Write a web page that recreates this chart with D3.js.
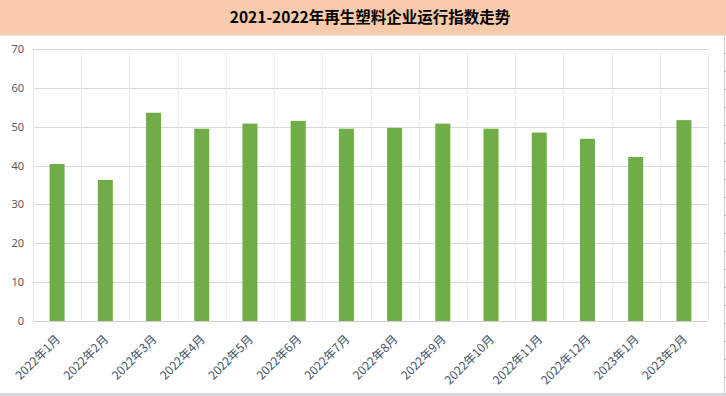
<!DOCTYPE html>
<html>
<head>
<meta charset="utf-8">
<script src="https://cdnjs.cloudflare.com/ajax/libs/d3/7.8.5/d3.min.js"></script>
<style>
  body { margin: 0; background: #fff; }
  #chart { width: 726px; height: 396px; }
</style>
</head>
<body>
<div id="chart"></div>
<script>
const months = ["2022年1月","2022年2月","2022年3月","2022年4月","2022年5月","2022年6月","2022年7月",
                "2022年8月","2022年9月","2022年10月","2022年11月","2022年12月","2023年1月","2023年2月"];
const values = [40.4, 36.3, 53.6, 49.5, 50.8, 51.5, 49.5, 49.7, 50.8, 49.5, 48.5, 46.9, 42.2, 51.7];
const yTicks = [0, 10, 20, 30, 40, 50, 60, 70];
const title = "2021-2022年再生塑料企业运行指数走势";

const W = 726, H = 396;
const svg = d3.select("#chart").append("svg").attr("width", W).attr("height", H);

// title band
svg.append("rect").attr("x", 0).attr("y", 0).attr("width", W).attr("height", 35).attr("fill", "#F8CBAD");
svg.append("line").attr("x1", 0).attr("x2", W).attr("y1", 35.5).attr("y2", 35.5).attr("stroke", "#e6e6e6");
svg.append("text")
  .attr("x", 370).attr("y", 23)
  .attr("text-anchor", "middle")
  .attr("font-family", "Noto Sans CJK SC")
  .attr("font-weight", "bold")
  .attr("font-size", "15.5px")
  .attr("fill", "#000")
  .text(title);

// right edge ruler and bottom strip
svg.append("line").attr("x1", 724.5).attr("x2", 724.5).attr("y1", 36).attr("y2", H).attr("stroke", "#d0d0d0");
svg.append("g").selectAll("line").data(d3.range(53, 390, 18)).enter().append("line")
  .attr("x1", 724).attr("x2", 726).attr("y1", d => d + 0.5).attr("y2", d => d + 0.5).attr("stroke", "#b8b8b8");
svg.append("rect").attr("x", 0).attr("y", 393).attr("width", W).attr("height", 3).attr("fill", "#d4d7dc");

const m = {left: 33, right: 708, top: 49, bottom: 321};

const x = d3.scaleBand().domain(months).range([m.left, m.right]).paddingInner(0).paddingOuter(0);
const y = d3.scaleLinear().domain([0, 70]).range([m.bottom, m.top]);

// horizontal gridlines
svg.append("g").selectAll("line").data(yTicks).enter().append("line")
  .attr("x1", m.left).attr("x2", m.right)
  .attr("y1", d => Math.round(y(d)) + 0.5).attr("y2", d => Math.round(y(d)) + 0.5)
  .attr("stroke", d => d === 0 ? "#d0d0d0" : "#d9d9d9");

// vertical gridlines at category boundaries
const bounds = months.map(d => x(d)).concat([m.right]);
svg.append("g").selectAll("line").data(bounds).enter().append("line")
  .attr("x1", d => Math.round(d) + 0.5).attr("x2", d => Math.round(d) + 0.5)
  .attr("y1", m.top).attr("y2", m.bottom)
  .attr("stroke", "#ececec");

// y labels
svg.append("g").selectAll("text").data(yTicks).enter().append("text")
  .attr("x", 24).attr("y", d => y(d) + 4)
  .attr("text-anchor", "end")
  .attr("font-family", "Noto Sans, sans-serif")
  .attr("font-size", "11px")
  .attr("fill", "#595959")
  .text(d => d);

// bars
const bw = 15;
svg.append("g").selectAll("rect").data(values).enter().append("rect")
  .attr("x", (d, i) => x(months[i]) + x.bandwidth() / 2 - bw / 2)
  .attr("width", bw)
  .attr("y", d => y(d))
  .attr("height", d => y(0) - y(d))
  .attr("fill", "#70AD47");

// x labels rotated
svg.append("g").selectAll("text").data(months).enter().append("text")
  .attr("transform", d => "translate(" + (x(d) + x.bandwidth() / 2 + 4) + "," + 340 + ") rotate(-45)")
  .attr("text-anchor", "end")
  .attr("font-family", "Noto Sans CJK SC")
  .attr("font-size", "12px")
  .attr("fill", "#44546A")
  .text(d => d);
</script>
</body>
</html>
